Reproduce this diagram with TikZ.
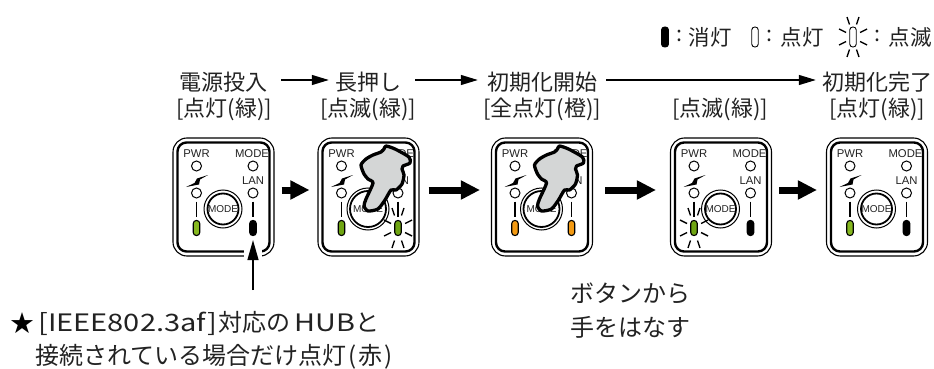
\documentclass[tikz,border=0pt]{standalone}
\usepackage{fontspec}
\setmainfont{Noto Sans CJK JP}
\newfontfamily\latinfont{Liberation Sans}
\newfontfamily\symfont{DejaVu Sans}
\usetikzlibrary{arrows.meta}
\definecolor{ledgreen}{HTML}{86B81F}
\definecolor{ledblink}{HTML}{6FA512}
\definecolor{ledorange}{HTML}{F39A12}
\definecolor{handgray}{HTML}{D4D6D6}
\definecolor{inktext}{HTML}{222222}
\tikzset{
  x=1pt,y=-1pt,
  outerframe/.style={draw=black,line width=1.1pt,rounded corners=14pt,minimum width=101pt,minimum height=118pt,inner sep=0pt,fill=white},
  innerframe/.style={draw=black,line width=2.4pt,rounded corners=9pt,minimum width=92pt,minimum height=109pt,inner sep=0pt},
  ledlabel/.style={font=\latinfont\fontsize{11.3}{12}\selectfont,inner sep=0pt,text=inktext},
  ledcircle/.style={circle,draw=black,line width=1pt,minimum size=10pt,inner sep=0pt},
  ledpill/.style={draw=black,line width=1.1pt,rounded corners=3pt,minimum width=6.5pt,minimum height=15pt,inner sep=0pt},
  modebtn/.style={circle,draw=black,line width=1.8pt,inner sep=0pt},
  modetext/.style={inner sep=0pt,font=\latinfont\fontsize{10}{11}\selectfont,text=inktext},
  modering/.style={circle,draw=black,line width=1pt,inner sep=0pt},
  labeltext/.style={font=\fontsize{22}{24}\selectfont,inner sep=0pt,text=inktext},
  notetext/.style={font=\fontsize{24}{26}\selectfont,inner sep=0pt,text=inktext},
  legendtext/.style={font=\fontsize{21.5}{24}\selectfont,inner sep=0pt,text=inktext},
  legendpill/.style={draw=black,line width=0.9pt,rounded corners=3pt,minimum width=6.5pt,minimum height=20pt,inner sep=0pt},
  flowarrow/.style={draw=black,line width=1.3pt,-{Triangle[length=17pt,width=10pt]}},
  blockarrow/.style={draw=black,line width=7pt,-{Triangle[length=19pt,width=18pt]}},
  rayline/.style={draw=black,line width=1.35pt},
  handfill/.style={draw=black,line width=3.3pt,fill=handgray,line join=round},
}
\newcommand{\blinkrays}[1]{%
  \foreach \ax/\ay/\bx/\by in {-6/-20/-3.5/-12.5,6/-20/3.5/-12.5,-14/-8/-7/-4.5,14/-8/7/-4.5,-14/8/-7/4.5,14/8/7/4.5,-6/20/-3.5/12.5,6/20/3.5/12.5}{%
    \draw[rayline] ([xshift=\ax pt,yshift=-\ay pt]#1.center) -- ([xshift=\bx pt,yshift=-\by pt]#1.center);}%
}
\newcommand{\ledpanel}[6]{%
  \begin{scope}[shift={(#2,138)}]
    \node[outerframe] (#1) at (50.5,59) {};
    \node[innerframe] (#1-in) at (50.5,59) {};
    \node[ledlabel] (#1-pwrt) at (23.5,16) {PWR};
    \node[ledlabel] (#1-modet) at (79,16) {MODE};
    \node[ledlabel] (#1-lant) at (80,43) {LAN};
    \node[ledcircle] (#1-pwr) at (23.5,28) {};
    \node[ledcircle] (#1-mode) at (80,28) {};
    \node[ledcircle] (#1-poe) at (23.5,55) {};
    \node[ledcircle] (#1-lan) at (80,55) {};
    \fill[black] (35,37) -- (24,40.5) -- (21.5,45) -- (13,49) -- (26,46.5) -- (27,41.5) -- cycle;
    \node[modering,minimum size=#5pt] (#1-ring) at (50,71) {};
    \node[modebtn,minimum size=#6pt] (#1-btn) at (50,71) {};
    \node[modetext] (#1-btnt) at (50,71) {MODE};
    \node[ledpill,fill=#3] (#1-pl) at (23.5,90) {};
    \node[ledpill,fill=#4] (#1-pr) at (80,90) {};
    \draw[line width=1.5pt,shorten <=3pt,shorten >=3pt] (#1-poe.south) -- (#1-pl.north);
    \draw[line width=1.5pt,shorten <=3pt,shorten >=3pt] (#1-lan.south) -- (#1-pr.north);
  \end{scope}%
}
\newcommand{\handshape}[1]{%
  \begin{scope}[shift={(#1,138)}]
    \draw[handfill] plot[smooth cycle,tension=0.4] coordinates {
      (68,8) (77,11) (91,19) (92,25) (85,28) (84,31) (86,37) (84,46) (78,52) (73,52)
      (67,62) (60,71) (50,73) (46,68) (48,61) (55,45) (50,41) (46,36) (43,27) (48,21) (55,17) (63,14) (66,11)};
  \end{scope}%
}
\begin{document}
\begin{tikzpicture}
  \useasboundingbox (0,0) rectangle (934,369);
  % legend
  \node[legendpill,fill=black,minimum width=7pt] (legoff) at (665,37) {};
  \node[legendtext] (legoffc) at (679,36) {:};
  \node[legendtext] (legofft) at (710,37) {消灯};
  \node[legendpill] (legon) at (755,37) {};
  \node[legendtext] (legonc) at (769,36) {:};
  \node[legendtext] (legont) at (802,37) {点灯};
  \node[legendpill] (legbl) at (853,37) {};
  \blinkrays{legbl}
  \node[legendtext] (legblc) at (877,36) {:};
  \node[legendtext] (legblt) at (910,37) {点滅};
  % headings
  \node[labeltext] (t1) at (223,82) {電源投入};
  \node[labeltext] (t2) at (368,82) {長押し};
  \node[labeltext] (t3) at (542,82) {初期化開始};
  \node[labeltext] (t5) at (877,82) {初期化完了};
  \node[labeltext] (s1) at (224,109) {[点灯(緑)]};
  \node[labeltext] (s2) at (368,109) {[点滅(緑)]};
  \node[labeltext] (s3) at (542,109) {[全点灯(橙)]};
  \node[labeltext] (s4) at (720,109) {[点滅(緑)]};
  \node[labeltext] (s5) at (877,109) {[点灯(緑)]};
  \draw[flowarrow] ([xshift=14pt,yshift=2pt]t1.east) -- ([xshift=-6pt,yshift=2pt]t2.west);
  \draw[flowarrow] ([xshift=14pt,yshift=2pt]t2.east) -- ([xshift=-9pt,yshift=2pt]t3.west);
  \draw[flowarrow] ([xshift=9pt,yshift=2pt]t3.east) -- ([xshift=-6pt,yshift=2pt]t5.west);
  % panels
  \ledpanel{p1}{173}{ledgreen}{black}{38}{31}
  \ledpanel{p2}{318}{ledblink}{ledblink}{42}{36}
  \ledpanel{p3}{491.5}{ledorange}{ledorange}{42}{36}
  \ledpanel{p4}{670.5}{ledblink}{black}{38}{31}
  \ledpanel{p5}{826.5}{ledgreen}{black}{38}{31}
  \blinkrays{p2-pr}
  \blinkrays{p4-pl}
  \handshape{318}
  \handshape{491.5}
  % block arrows
  \draw[blockarrow,shorten <=7pt,shorten >=8pt] ([yshift=7pt]p1.east) -- ([yshift=7pt]p2.west);
  \draw[blockarrow,shorten <=9pt,shorten >=11pt] ([yshift=7pt]p2.east) -- ([yshift=7pt]p3.west);
  \draw[blockarrow,shorten <=12pt,shorten >=14pt] ([yshift=7pt]p3.east) -- ([yshift=7pt]p4.west);
  \draw[blockarrow,shorten <=7pt,shorten >=9pt] ([yshift=7pt]p4.east) -- ([yshift=7pt]p5.west);
  % note
  \node[font=\symfont\fontsize{29}{30}\selectfont,inner sep=0pt,text=black] (star) at (22,323) {★};
  \node[notetext,anchor=west] (note1) at (38,323) {\scalebox{1.21}[1]{[IEEE802.3af]}\hspace{1pt}対応の\hspace{4pt}\scalebox{1.2}[1]{HUB}と};
  \node[notetext,anchor=west] (note2) at (35,357) {接続されている場合だけ点灯\hspace{2pt}(\hspace{2pt}赤\hspace{2pt})};
  \coordinate (hubtail) at (253,290);
  \draw[white,line width=18pt] (253,246) -- (253,258);
  \draw[draw=black,line width=1.3pt,-{Triangle[length=20pt,width=11pt]},shorten >=4pt] (hubtail) -- (p1-pr.south);
  \node[notetext] (rel1) at (630,293) {ボタンから};
  \node[notetext] (rel2) at (630,327) {手をはなす};
\end{tikzpicture}
\end{document}
